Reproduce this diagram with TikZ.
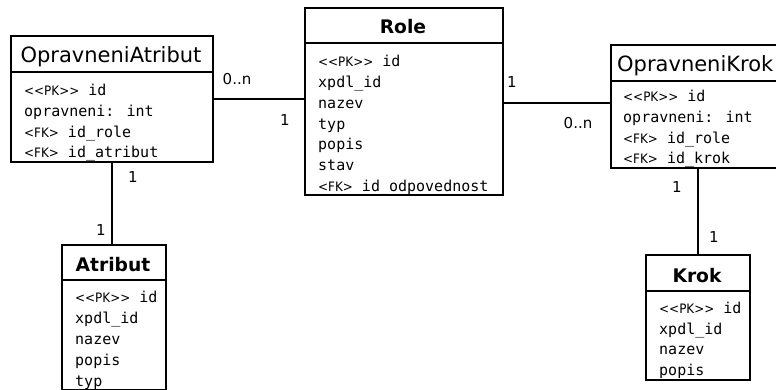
\documentclass[tikz,border=0pt]{standalone}
\usepackage{fontspec}
\newfontfamily\monof{DejaVu Sans Mono}
\newfontfamily\tagf{DejaVu Sans}[FakeStretch=0.92]
\newfontfamily\lblf{DejaVu Sans}
\newfontfamily\ttlf{DejaVu Sans}
\newcommand\pkt{{\fontsize{13}{13}\tagf <\kern0pt<PK>\kern0pt>}}
\newcommand\fkt{{\fontsize{13}{13}\tagf <FK>}}
\begin{document}
\begin{tikzpicture}[x=1pt,y=-1pt,
  box/.style={draw, line width=2pt, inner sep=0pt, anchor=north west},
  sep/.style={line width=2pt},
  conn/.style={line width=2.8pt},
  lbl/.style={inner sep=0pt, font=\fontsize{15}{15}\lblf},
  row/.style={anchor=base west, inner sep=0pt, font=\fontsize{15}{15}\monof},
  ttl/.style={inner sep=0pt, font=\fontsize{21}{21}\ttlf},
  ttlb/.style={inner sep=0pt, font=\fontsize{18.7}{18.7}\ttlf\bfseries}]
\useasboundingbox (0,0) rectangle (776,390);
\clip (0,0) rectangle (776,390);
\fill[white] (0,0) rectangle (776,390);

% OpravneniAtribut
\node[box, minimum width=202pt, minimum height=126pt] (oa) at (10,35) {};
\draw[sep] (oa.west |- 0,72) -- (oa.east |- 0,72);
\node[ttl, anchor=base] (oat) at (111,63) {OpravneniAtribut};
\node[row] (oa1) at (24,96) {\pkt~id};
\node[row] (oa2) at (24,116.6) {opravneni: int};
\node[row] (oa3) at (24,137.2) {\fkt~id\_role};
\node[row] (oa4) at (24,157.8) {\fkt~id\_atribut};

% Role
\node[box, minimum width=198pt, minimum height=187pt] (role) at (304,7) {};
\draw[sep] (role.west |- 0,43) -- (role.east |- 0,43);
\node[ttlb, anchor=base] (rolet) at (403,34) {Role};
\node[row] (r1) at (318,67) {\pkt~id};
\node[row] (r2) at (318,87.7) {xpdl\_id};
\node[row] (r3) at (318,108.4) {nazev};
\node[row] (r4) at (318,129.1) {typ};
\node[row] (r5) at (318,149.8) {popis};
\node[row] (r6) at (318,170.5) {stav};
\node[row] (r7) at (318,191.2) {\fkt~id\_odpovednost};

% OpravneniKrok
\node[box, minimum width=200pt, minimum height=123pt] (ok) at (610,44) {};
\draw[sep] (ok.west |- 0,81) -- (ok.east |- 0,81);
\node[ttl, anchor=base west] (okt) at (617,72) {OpravneniKrok};
\node[row] (ok1) at (623,102) {\pkt~id};
\node[row] (ok2) at (623,122.6) {opravneni: int};
\node[row] (ok3) at (623,143.3) {\fkt~id\_role};
\node[row] (ok4) at (623,164) {\fkt~id\_krok};

% Atribut
\node[box, minimum width=104pt, minimum height=145pt] (atr) at (61,244) {};
\draw[sep] (atr.west |- 0,280) -- (atr.east |- 0,280);
\node[ttlb, anchor=base] (atrt) at (113,271) {Atribut};
\node[row] (a1) at (75,302) {\pkt~id};
\node[row] (a2) at (75,323) {xpdl\_id};
\node[row] (a3) at (75,344) {nazev};
\node[row] (a4) at (75,365) {popis};
\node[row] (a5) at (75,386) {typ};

% Krok
\node[box, minimum width=104pt, minimum height=125pt] (krok) at (645,254) {};
\draw[sep] (krok.west |- 0,291) -- (krok.east |- 0,291);
\node[ttlb, anchor=base] (krokt) at (697,282) {Krok};
\node[row] (k1) at (659,313.5) {\pkt~id};
\node[row] (k2) at (659,334.2) {xpdl\_id};
\node[row] (k3) at (659,354.9) {nazev};
\node[row] (k4) at (659,375.6) {popis};

% connectors
\draw[conn] (oa.east |- 0,99) -- (role.west |- 0,99);
\draw[conn] (role.east |- 0,103) -- (ok.west |- 0,103);
\draw[conn] (oa.south) -- (oa.south |- atr.north);
\draw[conn] (krok.north |- ok.south) -- (krok.north);

% multiplicities
\node[lbl] (m1) at (237,79) {0..n};
\node[lbl] (m2) at (285,120) {1};
\node[lbl] (m3) at (512,82) {1};
\node[lbl] (m4) at (578,123) {0..n};
\node[lbl] (m5) at (133,177) {1};
\node[lbl] (m6) at (101,230) {1};
\node[lbl] (m7) at (677,187) {1};
\node[lbl] (m8) at (714,237) {1};
\end{tikzpicture}
\end{document}
